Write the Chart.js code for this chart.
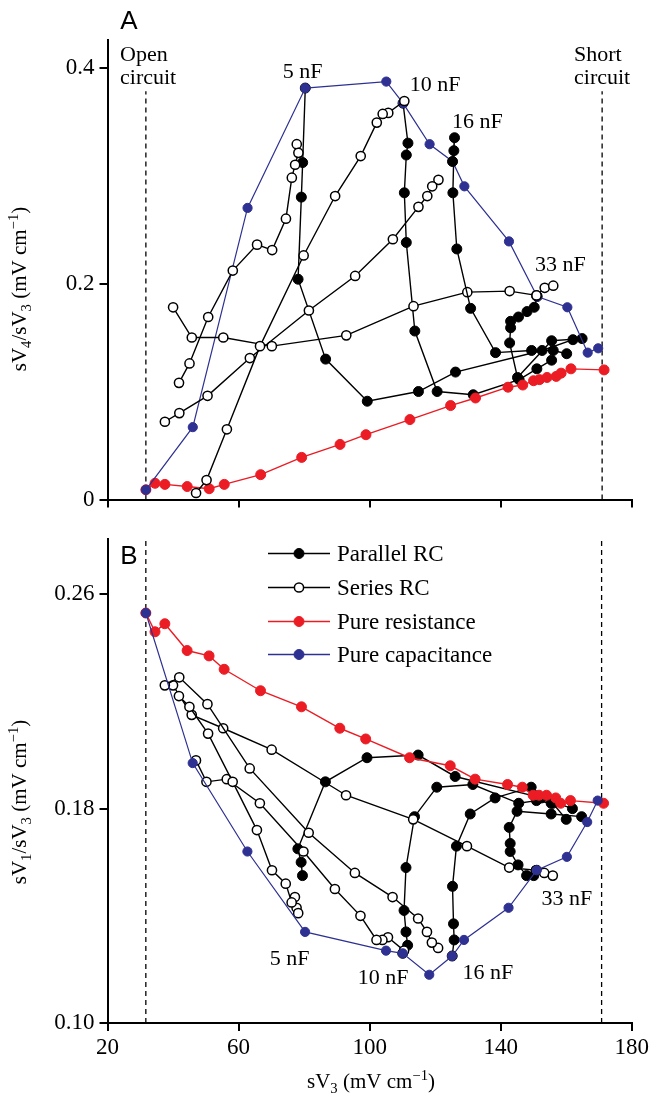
<!DOCTYPE html>
<html>
<head>
<meta charset="utf-8">
<script src="https://cdn.jsdelivr.net/npm/chart.js@4.4.0/dist/chart.umd.min.js"></script>
<style>
  html, body { margin: 0; padding: 0; background: #fff; }
  #wrap { position: relative; width: 652px; height: 1097px; }
  canvas { position: absolute; left: 0; }
  #chartA { top: 0; }
  #chartB { top: 520px; }
</style>
</head>
<body>
<div id="wrap">
  <canvas id="chartA" width="652" height="520" style="width:652px;height:520px"></canvas>
  <canvas id="chartB" width="652" height="577" style="width:652px;height:577px"></canvas>
</div>
<script>
// axes
const xTicks = [20, 60, 100, 140, 180];
const yTicksA = [0, 0.2, 0.4];
const yLabelsA = ['0', '0.2', '0.4'];
const yTicksB = [0.10, 0.18, 0.26];
const yLabelsB = ['0.10', '0.18', '0.26'];
const openCircuit = 31.7;
const shortCircuit = 170.8;

// pure capacitance (x = sV3, A = sV4/sV3, B = sV1/sV3)
const capX = [31.7, 46.0, 62.7, 80.3, 105.0, 110.1, 118.2, 125.2, 128.8, 142.4, 151.0, 160.2, 166.4, 169.6];
const capA = [0.009, 0.067, 0.270, 0.381, 0.387, 0.367, 0.329, 0.313, 0.290, 0.239, 0.188, 0.178, 0.136, 0.140];
const capB = [0.253, 0.197, 0.164, 0.134, 0.127, 0.126, 0.118, 0.125, 0.131, 0.143, 0.157, 0.162, 0.175, 0.183];

// pure resistance
const resX = [31.7, 34.5, 37.5, 44.3, 51.0, 55.6, 66.7, 79.2, 90.9, 98.8, 112.2, 124.6, 132.2, 142.1, 146.6, 149.9, 151.7, 154.0, 156.8, 158.3, 161.3, 171.4];
const resA = [0.009, 0.015, 0.014, 0.012, 0.010, 0.014, 0.023, 0.039, 0.051, 0.060, 0.074, 0.087, 0.094, 0.104, 0.106, 0.110, 0.111, 0.113, 0.114, 0.117, 0.121, 0.120];
const resB = [0.253, 0.246, 0.249, 0.239, 0.237, 0.232, 0.224, 0.218, 0.210, 0.206, 0.199, 0.196, 0.191, 0.189, 0.188, 0.185, 0.185, 0.185, 0.184, 0.182, 0.183, 0.182];

// parallel RC
const p5X = [80.3, 79.5, 79.1, 78.1, 86.5, 99.2, 114.8, 126.1, 152.5, 161.9];
const p5A = [0.381, 0.312, 0.280, 0.204, 0.130, 0.091, 0.100, 0.118, 0.138, 0.148];
const p5B = [null, 0.155, 0.160, 0.165, 0.190, 0.199, 0.200, 0.192, 0.184, 0.180];

const p10X = [110.1, 111.6, 111.1, 110.5, 111.1, 113.7, 120.5, 131.5, 145.5, 150.9, 155.4];
const p10A = [0.367, 0.330, 0.319, 0.284, 0.238, 0.156, 0.100, 0.097, 0.111, 0.121, 0.129];
const p10B = [0.126, 0.129, 0.134, 0.142, 0.158, 0.177, 0.188, 0.189, 0.182, 0.183, 0.182];

const p16X = [125.2, 125.8, 125.6, 125.3, 126.5, 130.7, 138.3, 149.3, 155.9, 160.0];
const p16A = [0.313, 0.335, 0.323, 0.284, 0.232, 0.177, 0.136, 0.138, 0.138, 0.135];
const p16B = [0.125, 0.131, 0.137, 0.151, 0.166, 0.178, 0.184, 0.188, 0.182, 0.176];

const p33X = [151.0, 150.1, 147.9, 145.3, 142.9, 142.9, 142.6, 145.0, 155.4, 164.7];
const p33A = [0.188, 0.178, 0.174, 0.169, 0.165, 0.159, 0.145, 0.113, 0.147, 0.149];
const p33B = [0.157, 0.155, 0.155, 0.159, 0.164, 0.167, 0.173, 0.179, 0.178, 0.177];

// series RC
const s5X = [77.7, 78.2, 77.2, 76.2, 74.4, 70.2, 65.6, 58.2, 50.7, 45.0, 41.8];
const s5A = [0.329, 0.321, 0.310, 0.298, 0.260, 0.231, 0.236, 0.212, 0.169, 0.126, 0.108];
const s5B = [0.143, 0.141, 0.147, 0.145, 0.152, 0.157, 0.172, 0.190, 0.208, 0.218, 0.222];

const s10X = [110.5, 105.6, 103.9, 102.1, 97.2, 89.4, 79.8, 66.5, 56.4, 50.2, 47.0];
const s10A = [0.369, 0.358, 0.357, 0.349, 0.318, 0.281, 0.226, 0.142, 0.065, 0.018, 0.006];
const s10B = [0.127, 0.132, 0.131, 0.131, 0.140, 0.150, 0.164, 0.182, 0.191, 0.190, 0.198];

const s16X = [120.9, 119.0, 117.5, 114.8, 107.0, 95.5, 81.4, 63.4, 50.5, 41.9, 37.5];
const s16A = [0.296, 0.290, 0.281, 0.271, 0.241, 0.207, 0.175, 0.131, 0.096, 0.080, 0.072];
const s16B = [0.128, 0.130, 0.134, 0.139, 0.147, 0.156, 0.171, 0.195, 0.219, 0.229, 0.226];

const sRX = [40.0, 45.7, 55.3, 70.1, 92.8, 113.3, 129.7, 142.6, 150.8];
const sRA = [0.178, 0.150, 0.150, 0.142, 0.152, 0.179, 0.192, 0.193, 0.189];
const sRB = [0.226, 0.215, 0.210, 0.202, 0.185, 0.176, 0.166, 0.158, 0.157];

const s33X = [150.8, 153.3, 155.9];
const s33A = [0.189, 0.196, 0.198];
const s33B = [0.157, 0.156, 0.155];

const legendLabels = ['Parallel RC', 'Series RC', 'Pure resistance', 'Pure capacitance'];
const capLabels = ['5 nF', '10 nF', '16 nF', '33 nF'];

const RED = '#ec1c24';
const BLUE = '#2e3192';
const SERIF = '"Liberation Serif", "Times New Roman", serif';
const SANS = '"Liberation Sans", Arial, sans-serif';

// label positions (data units)
const capLabelPosA = [[79.5, 0.397], [119.9, 0.385], [132.8, 0.351], [158.1, 0.219]];
const capLabelPosB = [[75.6, 0.1246], [104.1, 0.1172], [136.1, 0.1191], [160.2, 0.147]];

function pts(xs, ys) {
  return xs.map((x, i) => ({ x: x, y: ys[i] }));
}

function lineSet(data, color, width, fill, radius, order) {
  return {
    data: data,
    order: order,
    showLine: true,
    borderColor: color,
    borderWidth: width,
    pointRadius: radius,
    pointBackgroundColor: fill,
    pointBorderColor: color,
    pointBorderWidth: fill === '#fff' ? 1.5 : 1,
    pointHoverRadius: radius,
    spanGaps: false
  };
}

// lower order is drawn on top
function buildDatasets(panel, dashTop, dashBottom) {
  const A = panel === 'A';
  const sets = [];
  sets.push(lineSet(pts(capX, A ? capA : capB), BLUE, 1.2, BLUE, 4.6, A ? 2 : 1));
  sets.push(lineSet(pts(resX, A ? resA : resB), RED, 1.4, RED, 5, A ? 3 : 2));
  [[s5X, s5A, s5B], [s10X, s10A, s10B], [s16X, s16A, s16B], [sRX, sRA, sRB], [s33X, s33A, s33B]]
    .forEach(s => sets.push(lineSet(pts(s[0], A ? s[1] : s[2]), '#000', 1.4, '#fff', 4.6, A ? 1 : 3)));
  [[p5X, p5A, p5B], [p10X, p10A, p10B], [p16X, p16A, p16B], [p33X, p33A, p33B]]
    .forEach(s => sets.push(lineSet(pts(s[0], A ? s[1] : s[2]), '#000', 1.4, '#000', 5, (A && s[0] === p16X) ? 0 : 4)));
  [openCircuit, shortCircuit].forEach(x => {
    sets.push({
      data: [{ x: x, y: dashBottom }, { x: x, y: dashTop }],
      order: 5,
      showLine: true, borderColor: '#000', borderWidth: 1.3, borderDash: [5, 4],
      pointRadius: 0, pointHoverRadius: 0
    });
  });
  return sets;
}

// text with sub/superscripts: parts = [text, mode] (0 normal, 1 sub, 2 sup)
function richText(ctx, parts, x, y, size, align) {
  let w = 0;
  parts.forEach(([t, m]) => {
    ctx.font = (m ? size * 0.7 : size) + 'px ' + SERIF;
    w += ctx.measureText(t).width;
  });
  let cx = align === 'center' ? x - w / 2 : x;
  ctx.textAlign = 'left';
  ctx.textBaseline = 'alphabetic';
  parts.forEach(([t, m]) => {
    ctx.font = (m ? size * 0.7 : size) + 'px ' + SERIF;
    const dy = m === 1 ? size * 0.22 : (m === 2 ? -size * 0.4 : 0);
    ctx.fillText(t, cx, y + dy);
    cx += ctx.measureText(t).width;
  });
}

function text(ctx, t, x, y, font, align) {
  ctx.font = font;
  ctx.textAlign = align || 'left';
  ctx.textBaseline = 'alphabetic';
  ctx.fillText(t, x, y);
}

function axes(yMin, yMax, yTicks, yLabels, showX, xHeight) {
  const grid = { display: true, drawOnChartArea: false, drawTicks: true, tickLength: 8, color: '#000', lineWidth: 2 };
  const border = { display: true, color: '#000', width: 2 };
  return {
    x: {
      type: 'linear', min: 20, max: 180,
      afterBuildTicks: s => { s.ticks = xTicks.map(v => ({ value: v })); },
      ticks: { display: showX, color: '#000', font: { family: SERIF, size: 23 }, padding: 3, maxRotation: 0, callback: v => String(v) },
      grid: grid, border: border,
      afterFit: s => { s.height = xHeight; }
    },
    y: {
      type: 'linear', min: yMin, max: yMax,
      afterBuildTicks: s => { s.ticks = yTicks.map(v => ({ value: v })); },
      ticks: { color: '#000', font: { family: SERIF, size: 23 }, padding: 5, callback: v => yLabels[yTicks.indexOf(v)] },
      grid: grid, border: border,
      afterFit: s => { s.width = 107.5; }
    }
  };
}

const baseOptions = {
  responsive: false,
  animation: false,
  plugins: { legend: { display: false }, tooltip: { enabled: false } },
  events: []
};

const annotA = {
  id: 'annotA',
  afterDraw(chart) {
    const ctx = chart.ctx, xs = chart.scales.x, ys = chart.scales.y;
    ctx.save();
    ctx.fillStyle = '#000';
    text(ctx, 'A', 129, 29, '26px ' + SANS, 'center');
    text(ctx, 'Open', 120, 60.5, '22px ' + SERIF);
    text(ctx, 'circuit', 120, 84, '22px ' + SERIF);
    text(ctx, 'Short', 574, 60.5, '22px ' + SERIF);
    text(ctx, 'circuit', 574, 84, '22px ' + SERIF);
    capLabels.forEach((t, i) => {
      const p = capLabelPosA[i];
      text(ctx, t, xs.getPixelForValue(p[0]), ys.getPixelForValue(p[1]) + 7.5, '22px ' + SERIF, 'center');
    });
    ctx.translate(26, 289);
    ctx.rotate(-Math.PI / 2);
    richText(ctx, [['sV', 0], ['4', 1], ['/sV', 0], ['3', 1], [' (mV cm', 0], ['\u22121', 2], [')', 0]], 0, 0, 21, 'center');
    ctx.restore();
  }
};

const annotB = {
  id: 'annotB',
  afterDraw(chart) {
    const ctx = chart.ctx, xs = chart.scales.x, ys = chart.scales.y;
    ctx.save();
    ctx.fillStyle = '#000';
    text(ctx, 'B', 129, 44, '26px ' + SANS, 'center');
    // legend
    const rows = [33.5, 67.5, 101.5, 134.5];
    const styles = [['#000', '#000'], ['#000', '#fff'], [RED, RED], [BLUE, BLUE]];
    rows.forEach((y, i) => {
      ctx.strokeStyle = styles[i][0];
      ctx.lineWidth = 1.4;
      ctx.beginPath(); ctx.moveTo(268, y); ctx.lineTo(330, y); ctx.stroke();
      ctx.beginPath(); ctx.arc(299, y, i === 1 ? 4.6 : 5, 0, Math.PI * 2);
      ctx.fillStyle = styles[i][1]; ctx.fill();
      ctx.lineWidth = i === 1 ? 1.5 : 1; ctx.stroke();
      ctx.fillStyle = '#000';
      text(ctx, legendLabels[i], 337, y + 7.5, '23px ' + SERIF);
    });
    capLabels.forEach((t, i) => {
      const p = capLabelPosB[i];
      text(ctx, t, xs.getPixelForValue(p[0]), ys.getPixelForValue(p[1]) + 7.5, '22px ' + SERIF, 'center');
    });
    richText(ctx, [['sV', 0], ['3', 1], [' (mV cm', 0], ['\u22121', 2], [')', 0]], 371, 568, 21, 'center');
    ctx.translate(26, 282);
    ctx.rotate(-Math.PI / 2);
    richText(ctx, [['sV', 0], ['1', 1], ['/sV', 0], ['3', 1], [' (mV cm', 0], ['\u22121', 2], [')', 0]], 0, 0, 21, 'center');
    ctx.restore();
  }
};

new Chart(document.getElementById('chartA'), {
  type: 'scatter',
  data: { datasets: buildDatasets('A', 0.378, 0) },
  options: Object.assign({}, baseOptions, {
    layout: { padding: { top: 40, right: 19.7, left: 0, bottom: 0 } },
    scales: axes(0, 0.4255, yTicksA, yLabelsA, false, 20.5)
  }),
  plugins: [annotA]
});

new Chart(document.getElementById('chartB'), {
  type: 'scatter',
  data: { datasets: buildDatasets('B', 0.2807, 0.10) },
  options: Object.assign({}, baseOptions, {
    layout: { padding: { top: 17, right: 19.7, left: 0, bottom: 0 } },
    scales: axes(0.10, 0.2807, yTicksB, yLabelsB, true, 74)
  }),
  plugins: [annotB]
});
</script>
</body>
</html>
